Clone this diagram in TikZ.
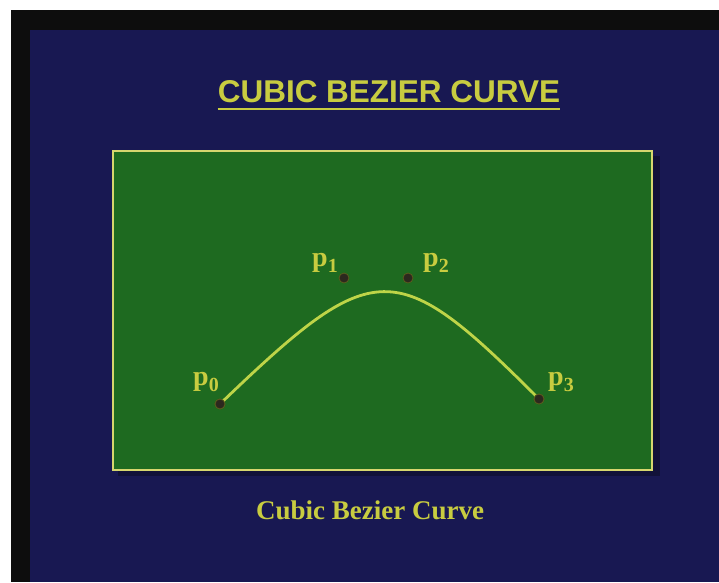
\documentclass[tikz,border=0pt]{standalone}
\usepackage{fontspec}
\setmainfont{Liberation Serif}
\setsansfont{Liberation Sans}
\definecolor{slideblue}{RGB}{24, 24, 82}
\definecolor{boardgreen}{RGB}{30, 106, 32}
\definecolor{chalkyellow}{RGB}{200, 204, 64}
\definecolor{curveyellow}{RGB}{190, 212, 72}
\definecolor{edgeyellow}{RGB}{214, 214, 110}
\definecolor{dotdark}{RGB}{44, 40, 30}
\usetikzlibrary{positioning}

\newcommand{\ptlabel}[1]{\textbf{p}\raisebox{-6pt}{\fontsize{20pt}{20pt}\selectfont\textbf{#1}}}

\tikzset{
  ctrlpt/.style={circle, fill=dotdark, draw=black!55!chalkyellow, line width=0.8pt, minimum size=10pt, inner sep=0pt},
  ptname/.style={anchor=base west, inner sep=0pt, text=chalkyellow, font=\fontsize{28pt}{28pt}\selectfont}
}

\begin{document}
\begin{tikzpicture}[x=1pt, y=-1pt]
  % frame
  \useasboundingbox (0,0) rectangle (719,582);
  \fill[white] (0,0) rectangle (719,582);
  \fill[black!95] (11,10) rectangle (719,582);
  \fill[slideblue] (30,30) rectangle (719,582);

  % title
  \node[anchor=base, inner sep=0pt, text=chalkyellow, font=\sffamily\bfseries\fontsize{31.5pt}{31.5pt}\selectfont] (title) at (389,102) {CUBIC BEZIER CURVE};
  \draw[chalkyellow, line width=2.5pt] ([yshift=-7pt]title.base west) -- ([yshift=-7pt]title.base east);

  % board
  \fill[black!30!slideblue] (118,156) rectangle (660,476);
  \draw[edgeyellow, line width=2pt, fill=boardgreen] (113,151) rectangle (652,470);

  % control points
  \node[ctrlpt] (p0) at (220,404) {};
  \node[ctrlpt] (p1) at (344,278) {};
  \node[ctrlpt] (p2) at (408,278) {};
  \node[ctrlpt] (p3) at (539,399) {};

  % the curve
  \draw[curveyellow, line width=2.8pt, line cap=round] (p0.center) .. controls (375,255) and (395,255) .. (p3.center);
  \node[ctrlpt] at (p0) {};
  \node[ctrlpt] at (p3) {};

  % labels
  \node[ptname] (l0) at (193,385) {\ptlabel{0}};
  \node[ptname] (l1) at (312,266) {\ptlabel{1}};
  \node[ptname] (l2) at (423,266) {\ptlabel{2}};
  \node[ptname] (l3) at (548,385) {\ptlabel{3}};

  \node[anchor=base, inner sep=0pt, text=chalkyellow, font=\bfseries\fontsize{27pt}{27pt}\selectfont] (caption) at (370,519) {Cubic Bezier Curve};
\end{tikzpicture}
\end{document}
